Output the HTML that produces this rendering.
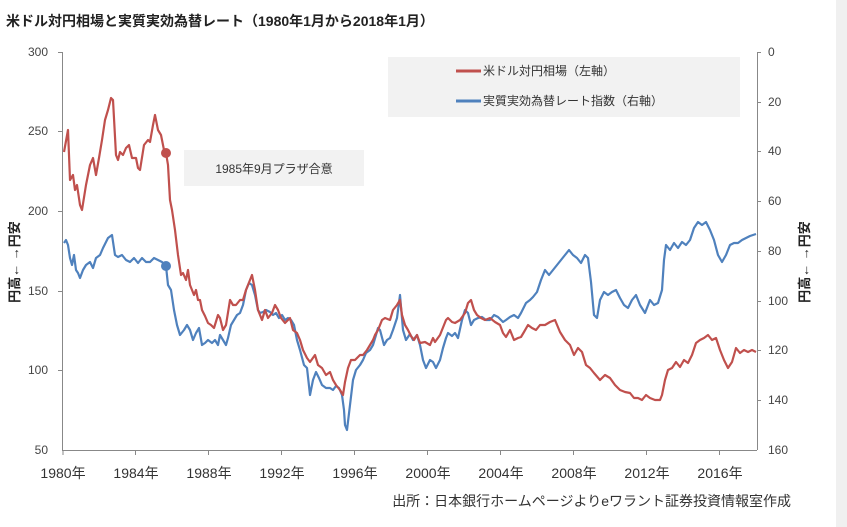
<!DOCTYPE html>
<html><head><meta charset="utf-8"><style>
body{margin:0;background:#fff;}
svg{display:block;font-family:"Liberation Sans","Noto Sans CJK JP",sans-serif;}
</style></head><body>
<svg width="847" height="527" viewBox="0 0 847 527" xmlns="http://www.w3.org/2000/svg">
<rect x="0" y="0" width="847" height="527" fill="#fff"/>
<rect x="836" y="0" width="11" height="527" fill="#f0f0f0"/>
<text x="6" y="26" font-size="14" font-weight="bold" fill="#222">米ドル対円相場と実質実効為替レート（1980年1月から2018年1月）</text>
<rect x="388" y="57" width="352" height="60" fill="#f2f2f2"/>
<line x1="456" y1="71" x2="481" y2="71" stroke="#c0504d" stroke-width="3"/>
<text x="483" y="75" font-size="12" fill="#333">米ドル対円相場（左軸）</text>
<line x1="456" y1="101" x2="481" y2="101" stroke="#4f81bd" stroke-width="3"/>
<text x="483" y="105" font-size="12" fill="#333">実質実効為替レート指数（右軸）</text>
<rect x="184" y="150" width="180" height="36" fill="#f2f2f2"/>
<text x="274" y="173" font-size="12" fill="#333" text-anchor="middle">1985年9月プラザ合意</text>
<g stroke="#888" stroke-width="1">
<line x1="62.5" y1="52" x2="62.5" y2="450"/>
<line x1="757.5" y1="52" x2="757.5" y2="450"/>
<line x1="62" y1="450.5" x2="757" y2="450.5"/>
<line x1="58" y1="52.5" x2="62" y2="52.5"/><line x1="58" y1="131.5" x2="62" y2="131.5"/><line x1="58" y1="211.5" x2="62" y2="211.5"/><line x1="58" y1="291.5" x2="62" y2="291.5"/><line x1="58" y1="370.5" x2="62" y2="370.5"/>
<line x1="757" y1="52.5" x2="761" y2="52.5"/><line x1="757" y1="102.5" x2="761" y2="102.5"/><line x1="757" y1="151.5" x2="761" y2="151.5"/><line x1="757" y1="201.5" x2="761" y2="201.5"/><line x1="757" y1="251.5" x2="761" y2="251.5"/><line x1="757" y1="301.5" x2="761" y2="301.5"/><line x1="757" y1="350.5" x2="761" y2="350.5"/><line x1="757" y1="400.5" x2="761" y2="400.5"/>
<line x1="63" y1="450" x2="63" y2="455"/><line x1="135.5" y1="450" x2="135.5" y2="455"/><line x1="208.5" y1="450" x2="208.5" y2="455"/><line x1="281.5" y1="450" x2="281.5" y2="455"/><line x1="354.5" y1="450" x2="354.5" y2="455"/><line x1="427.5" y1="450" x2="427.5" y2="455"/><line x1="500.5" y1="450" x2="500.5" y2="455"/><line x1="573.5" y1="450" x2="573.5" y2="455"/><line x1="646.5" y1="450" x2="646.5" y2="455"/><line x1="719.5" y1="450" x2="719.5" y2="455"/>
</g>
<g font-size="12" fill="#444" text-anchor="end">
<text x="48" y="56">300</text><text x="48" y="135">250</text><text x="48" y="215">200</text><text x="48" y="295">150</text><text x="48" y="374">100</text><text x="48" y="454">50</text>
</g>
<g font-size="12" fill="#444">
<text x="768" y="56">0</text><text x="768" y="106">20</text><text x="768" y="155">40</text><text x="768" y="205">60</text><text x="768" y="255">80</text><text x="768" y="305">100</text><text x="768" y="354">120</text><text x="768" y="404">140</text><text x="768" y="454">160</text>
</g>
<g font-size="14" fill="#333" text-anchor="middle">
<text x="63" y="478">1980年</text><text x="136" y="478">1984年</text><text x="209" y="478">1988年</text><text x="282" y="478">1992年</text><text x="355" y="478">1996年</text><text x="428" y="478">2000年</text><text x="501" y="478">2004年</text><text x="574" y="478">2008年</text><text x="647" y="478">2012年</text><text x="720" y="478">2016年</text>
</g>
<text x="791" y="506" font-size="14" fill="#333" text-anchor="end">出所：日本銀行ホームページよりeワラント証券投資情報室作成</text>
<text transform="translate(19,262) rotate(-90)" font-size="13" font-weight="bold" fill="#222" text-anchor="middle">円高← →円安</text>
<text transform="translate(809,262) rotate(-90)" font-size="13" font-weight="bold" fill="#222" text-anchor="middle">円高← →円安</text>
<polyline fill="none" stroke="#4f81bd" stroke-width="2.2" stroke-linejoin="round" points="64,243 66,240 68,245 70,258 72,265 74,255 76,270 78,273 80,278 83,270 86,265 90,262 93,268 96,258 100,255 103,248 108,238 112,235 115,255 118,257 122,255 126,260 130,262 134,258 138,263 142,258 146,262 150,262 154,258 158,260 162,262 166,266 168,285 171,290 174,310 177,325 180,335 184,330 187,325 190,330 193,340 196,333 199,328 202,345 205,343 208,340 212,343 215,340 218,345 220,335 223,340 226,345 228,338 231,325 234,320 237,315 240,313 243,305 246,290 249,283 252,285 255,295 258,310 260,313 263,312 266,310 270,312 273,315 276,313 279,318 282,315 285,320 288,318 291,320 294,325 297,340 300,350 304,365 307,368 310,395 313,380 316,372 319,378 322,385 326,388 330,388 333,390 336,386 339,388 342,395 344,410 345,425 347,430 350,405 353,380 356,370 360,365 363,360 366,353 370,350 373,345 376,335 378,328 380,330 384,345 387,340 390,338 393,330 397,318 400,295 403,330 406,340 410,334 413,340 417,335 420,345 423,360 426,368 430,360 433,362 436,368 440,360 443,348 446,338 448,333 452,336 455,333 458,338 462,320 465,310 468,313 471,325 474,320 478,318 482,317 486,320 490,320 494,315 498,317 503,322 506,320 510,317 514,315 518,318 521,313 526,303 530,300 533,297 537,292 541,280 545,270 549,275 553,270 557,265 561,260 565,255 569,250 573,255 577,258 581,263 585,255 588,258 591,282 594,315 597,318 600,300 604,292 608,295 612,292 616,290 620,298 624,305 628,308 632,300 636,295 640,305 645,313 650,300 654,305 658,303 662,290 664,260 666,245 670,250 674,243 678,248 682,242 686,245 690,240 694,228 698,222 702,225 706,222 710,230 714,240 718,255 722,262 726,255 730,245 734,243 738,243 742,240 746,238 750,236 756,234"/>
<polyline fill="none" stroke="#c0504d" stroke-width="2.2" stroke-linejoin="round" points="64,152 68,130 70,180 73,175 75,190 77,185 80,205 82,210 86,185 90,165 93,158 96,175 99,158 102,140 105,120 108,110 111,98 113,100 116,155 118,160 120,152 123,155 126,148 129,145 132,158 136,158 138,168 140,170 144,145 148,140 150,142 153,125 155,115 158,130 161,135 164,150 166,153 168,165 170,200 172,210 175,230 178,255 181,275 183,273 186,280 188,270 190,285 192,290 194,295 196,290 198,300 200,300 202,310 205,316 208,323 211,325 214,328 218,315 220,318 223,330 226,325 230,300 233,305 236,305 240,300 243,300 246,290 250,280 252,275 255,290 258,310 260,315 262,320 265,310 268,318 272,313 275,305 278,310 281,318 285,323 290,318 293,330 297,333 300,340 303,350 307,358 310,362 315,355 318,365 322,368 326,375 330,372 333,380 336,385 340,390 343,395 345,382 348,368 351,360 355,360 360,355 363,355 367,350 370,345 373,340 375,335 378,330 382,320 385,318 390,320 393,310 397,305 400,300 402,315 405,325 408,330 411,336 414,340 417,335 420,343 425,342 430,345 433,338 435,342 440,335 446,320 448,318 452,322 455,323 460,320 465,313 468,303 471,300 474,310 477,315 481,318 485,320 490,318 495,322 500,325 503,333 506,337 510,330 514,340 518,338 521,337 524,332 528,325 532,328 536,330 540,325 545,325 550,322 555,320 560,332 565,340 570,345 574,355 578,348 582,352 586,365 590,368 594,373 600,380 605,375 610,378 615,385 620,390 625,392 630,393 634,398 638,398 642,400 646,395 650,398 655,400 660,400 662,395 665,380 668,370 672,368 676,362 680,367 684,360 688,363 692,355 696,343 700,340 704,338 708,335 712,340 716,338 720,350 724,360 728,368 732,362 736,348 740,353 744,350 748,352 752,350 756,352"/>
<circle cx="166" cy="153" r="5" fill="#c0504d"/>
<circle cx="166" cy="266" r="5" fill="#4f81bd"/>
</svg>
</body></html>
